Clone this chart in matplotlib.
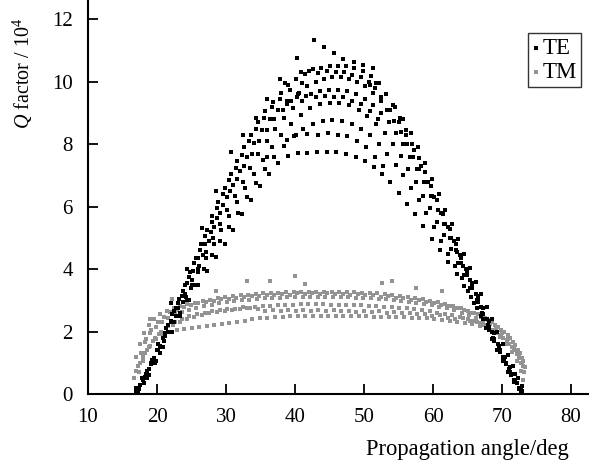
import matplotlib
matplotlib.use("Agg")
import matplotlib.pyplot as plt
import numpy as np

plt.rcParams['font.family'] = ['Liberation Serif', 'DejaVu Serif']
plt.rcParams['mathtext.fontset'] = 'custom'
plt.rcParams['mathtext.rm'] = 'Liberation Serif'
plt.rcParams['mathtext.it'] = 'Liberation Serif:italic'

# TE points (angle in deg, Q in 1e4)
te_outer = [(22.0, 2.9), (24.3, 4.0), (26.5, 5.32), (28.6, 6.5), (30.7, 7.75), (32.5, 8.3),
            (34.3, 8.83), (36.0, 9.45), (37.8, 10.08), (40.3, 10.75), (42.8, 11.34), (44.2, 11.1),
            (45.6, 10.92), (47.0, 10.74), (48.5, 10.63), (49.9, 10.53), (51.3, 10.43)]
te_arc1 = [(16.9, 0.05), (17.6, 0.3), (18.4, 0.65), (19.2, 1.0), (20.0, 1.4), (20.8, 1.8),
           (21.6, 2.2), (22.4, 2.65), (23.2, 3.05), (24.0, 3.5), (24.8, 3.9), (25.6, 4.35),
           (26.4, 4.8), (27.2, 5.25), (28.0, 5.7), (28.9, 6.15), (29.8, 6.6), (30.7, 7.05),
           (31.6, 7.45), (32.6, 7.9), (33.6, 8.3), (34.6, 8.7), (35.7, 9.05), (36.8, 9.35),
           (37.9, 9.65), (39.0, 9.9), (40.2, 10.1), (41.4, 10.25), (42.6, 10.4), (43.8, 10.45),
           (45.0, 10.5), (46.2, 10.52), (47.4, 10.5), (48.6, 10.45), (49.8, 10.35), (51.0, 10.2),
           (52.1, 9.95), (53.2, 9.6), (54.2, 9.25), (55.2, 8.85), (56.1, 8.45), (57.0, 8.0),
           (57.9, 7.55), (58.8, 7.1), (59.7, 6.65), (60.6, 6.2), (61.5, 5.75), (62.4, 5.3),
           (63.3, 4.8), (64.1, 4.35), (64.9, 3.9), (65.7, 3.45), (66.5, 3.0), (67.3, 2.55),
           (68.1, 2.15), (68.9, 1.75), (69.7, 1.35), (70.5, 0.95), (71.3, 0.6), (72.1, 0.35),
           (72.9, 0.1)]
te_arc2 = [(17.2, 0.1), (18.0, 0.45), (18.8, 0.8), (19.6, 1.15), (20.4, 1.55), (21.2, 1.95),
           (22.0, 2.35), (22.8, 2.75), (23.6, 3.15), (24.4, 3.55), (25.2, 3.95), (26.0, 4.35),
           (26.9, 4.8), (27.8, 5.2), (28.7, 5.65), (29.6, 6.05), (30.6, 6.5), (31.6, 6.9),
           (32.6, 7.3), (33.7, 7.7), (34.8, 8.1), (35.9, 8.45), (37.0, 8.8), (38.2, 9.1),
           (39.4, 9.4), (40.6, 9.65), (41.8, 9.85), (43.0, 10.0), (44.2, 10.1), (45.4, 10.15),
           (46.6, 10.15), (47.8, 10.1), (49.0, 10.0), (50.2, 9.85), (51.3, 9.65), (52.4, 9.4),
           (53.4, 9.1), (54.4, 8.75), (55.3, 8.4), (56.2, 8.0), (57.1, 7.6), (58.0, 7.2),
           (58.9, 6.8), (59.8, 6.35), (60.7, 5.9), (61.6, 5.45), (62.5, 5.0), (63.3, 4.6),
           (64.1, 4.2), (64.9, 3.8), (65.7, 3.4), (66.5, 2.95), (67.3, 2.55), (68.1, 2.15),
           (68.9, 1.75), (69.7, 1.4), (70.5, 1.0), (71.3, 0.65), (72.1, 0.35), (72.8, 0.1)]
te_arc3 = [(17.1, 0.05), (18.1, 0.5), (19.1, 0.95), (20.1, 1.4), (21.1, 1.85), (22.1, 2.3),
           (23.1, 2.75), (24.1, 3.2), (25.1, 3.65), (26.1, 4.1), (27.1, 4.55), (28.1, 5.0),
           (29.1, 5.45), (30.2, 5.9), (31.3, 6.35), (32.4, 6.8), (33.5, 7.25), (34.7, 7.7),
           (35.9, 8.1), (37.1, 8.5), (38.4, 8.85), (39.7, 9.15), (41.0, 9.4), (42.3, 9.6),
           (43.6, 9.7), (44.9, 9.75), (46.2, 9.75), (47.5, 9.7), (48.8, 9.6), (50.1, 9.45),
           (51.3, 9.25), (52.5, 9.0), (53.6, 8.7), (54.7, 8.35), (55.7, 8.0), (56.7, 7.6),
           (57.7, 7.2), (58.7, 6.8), (59.7, 6.35), (60.7, 5.9), (61.7, 5.45), (62.6, 5.0),
           (63.5, 4.55), (64.4, 4.1), (65.3, 3.65), (66.2, 3.2), (67.0, 2.8), (67.8, 2.4),
           (68.6, 2.0), (69.4, 1.6), (70.2, 1.2), (71.0, 0.8), (71.8, 0.45), (72.6, 0.15)]
te_arc4 = [(17.2, 0.1), (18.3, 0.55), (19.4, 1.0), (20.5, 1.5), (21.6, 2.0), (22.7, 2.5),
           (23.8, 2.95), (24.9, 3.4), (26.0, 3.9), (27.1, 4.35), (28.2, 4.8), (29.3, 5.25),
           (30.4, 5.7), (31.6, 6.15), (32.8, 6.6), (34.0, 7.05), (35.3, 7.5), (36.6, 7.9),
           (38.0, 8.3), (39.4, 8.65), (40.8, 8.95), (42.2, 9.15), (43.6, 9.28), (45.0, 9.33),
           (46.4, 9.32), (47.8, 9.25), (49.2, 9.1), (50.5, 8.9), (51.8, 8.65), (53.0, 8.35),
           (54.2, 8.0), (55.3, 7.62), (56.4, 7.2), (57.5, 6.8), (58.6, 6.35), (59.6, 5.95),
           (60.6, 5.5), (61.6, 5.1), (62.6, 4.65), (63.6, 4.2), (64.5, 3.8), (65.4, 3.4),
           (66.3, 3.0), (67.1, 2.6), (67.9, 2.2), (68.7, 1.8), (69.5, 1.4), (70.3, 1.05),
           (71.1, 0.7), (71.9, 0.4), (72.7, 0.12)]
te_arc5 = [(17.3, 0.08), (18.4, 0.55), (19.5, 1.0), (20.7, 1.5), (21.9, 2.0), (23.1, 2.5),
           (24.3, 3.0), (25.5, 3.5), (26.8, 4.0), (28.0, 4.45), (29.2, 4.9), (30.4, 5.35),
           (31.7, 5.8), (33.0, 6.3), (34.3, 6.75), (35.6, 7.2), (37.0, 7.6), (38.4, 7.95),
           (39.8, 8.25), (41.2, 8.5), (42.6, 8.65), (44.0, 8.75), (45.4, 8.78), (46.8, 8.75),
           (48.2, 8.65), (49.6, 8.5), (50.9, 8.3), (52.2, 8.0), (53.4, 7.7), (54.6, 7.35),
           (55.7, 7.0), (56.8, 6.6), (57.9, 6.2), (59.0, 5.8), (60.1, 5.35), (61.2, 4.9),
           (62.2, 4.5), (63.2, 4.1), (64.2, 3.7), (65.1, 3.3), (66.0, 2.9), (66.9, 2.5),
           (67.7, 2.1), (68.5, 1.75), (69.3, 1.4), (70.1, 1.05), (70.9, 0.7), (71.7, 0.4),
           (72.5, 0.15)]
te_arc6 = [(17.3, 0.05), (18.5, 0.5), (19.7, 1.0), (20.9, 1.5), (22.1, 2.0), (23.3, 2.5),
           (24.6, 3.0), (26.0, 3.5), (27.3, 3.95), (28.6, 4.4), (29.8, 4.8), (31.0, 5.25),
           (32.3, 5.75), (33.6, 6.2), (34.9, 6.65), (36.2, 7.05), (37.6, 7.4), (39.0, 7.62),
           (40.4, 7.72), (41.8, 7.72), (43.2, 7.75), (44.6, 7.76), (46.0, 7.74), (47.4, 7.68),
           (48.8, 7.6), (50.1, 7.45), (51.4, 7.28), (52.6, 7.05), (53.8, 6.8), (55.0, 6.45),
           (56.2, 6.1), (57.4, 5.75), (58.6, 5.38), (59.8, 4.98), (61.0, 4.6), (62.2, 4.22),
           (63.4, 3.85), (64.5, 3.45), (65.5, 3.1), (66.4, 2.75), (67.3, 2.4), (68.1, 2.05),
           (68.9, 1.7), (69.7, 1.35), (70.5, 1.0), (71.3, 0.65), (72.1, 0.35), (72.9, 0.08)]
te_left = [(17.0, 0.2), (17.4, 0.15), (17.8, 0.5), (18.1, 0.35), (18.6, 0.75), (18.9, 0.6),
           (19.3, 1.1), (19.8, 1.05), (20.2, 1.6), (20.5, 1.3), (21.0, 1.7), (21.3, 2.1),
           (21.8, 2.0), (22.2, 2.55), (22.5, 2.3), (23.0, 2.9), (23.4, 2.6), (23.8, 3.3),
           (24.2, 3.1), (24.6, 3.75), (25.0, 3.5), (25.4, 4.2), (25.9, 4.0), (26.2, 4.6),
           (26.7, 4.45), (27.0, 5.05), (27.5, 4.9), (27.9, 5.5), (28.3, 5.35), (28.7, 5.95),
           (29.2, 5.8), (29.6, 6.4), (30.1, 6.3), (30.5, 6.85), (31.0, 6.7), (31.4, 7.25),
           (32.0, 7.15), (32.3, 7.65), (33.0, 7.6), (33.3, 8.1), (34.1, 8.05), (34.4, 8.5),
           (35.2, 8.45), (35.5, 8.85), (36.4, 8.8), (36.6, 9.2), (37.5, 9.1), (37.8, 9.45),
           (38.8, 9.4), (39.3, 9.75), (40.4, 9.6), (41.0, 9.95)]
te_right = [(72.9, 0.25), (72.5, 0.2), (72.3, 0.5), (71.9, 0.65), (71.6, 0.9), (71.2, 0.85),
            (70.8, 1.25), (70.4, 1.2), (70.1, 1.6), (69.6, 1.55), (69.3, 2.0), (68.9, 1.95),
            (68.6, 2.4), (68.1, 2.35), (67.8, 2.8), (67.3, 2.75), (67.0, 3.2), (66.5, 3.15),
            (66.2, 3.6), (65.7, 3.55), (65.4, 4.05), (64.8, 4.0), (64.5, 4.5), (63.9, 4.45),
            (63.6, 4.95), (63.0, 4.9), (62.7, 5.45), (62.1, 5.35), (61.8, 5.9), (61.1, 5.8),
            (60.8, 6.4), (60.2, 6.3), (59.8, 6.9), (59.2, 6.8), (58.8, 7.4), (58.2, 7.3),
            (57.8, 7.9), (57.2, 7.8), (56.8, 8.35), (56.1, 8.3), (55.7, 8.8), (55.0, 8.7),
            (54.5, 9.2), (53.8, 9.1), (53.2, 9.6), (52.5, 9.5), (51.8, 9.95), (50.9, 9.9)]
te_mid = [(38.5, 9.95), (40.8, 10.3), (42.0, 10.35), (43.3, 10.28), (44.6, 10.33), (45.9, 10.32),
          (47.1, 10.3), (48.3, 10.22), (49.6, 10.15), (50.7, 10.0), (51.6, 9.8),
          (36.5, 8.8), (38.9, 9.3), (40.3, 9.5), (41.6, 9.55), (43.0, 9.5), (44.3, 9.55),
          (45.6, 9.52), (47.0, 9.5), (48.3, 9.4), (49.6, 9.28), (50.8, 9.05), (52.0, 8.8),
          (36.0, 7.6), (38.8, 8.15), (40.2, 8.3), (41.8, 8.32), (43.3, 8.28), (44.8, 8.35),
          (46.2, 8.3), (47.6, 8.25), (49.0, 8.1), (50.3, 7.9), (51.6, 7.6), (52.8, 7.3)]

# TM points
tm_outer = [(19.0, 2.4), (22.1, 3.04), (28.6, 3.3), (33.0, 3.63), (36.4, 3.63), (40.0, 3.79),
            (41.4, 3.52), (52.6, 3.57), (54.0, 3.63), (57.6, 3.41), (61.3, 3.3)]
tm_row1 = [(17.0, 1.2), (17.5, 1.6), (18.1, 1.95), (18.8, 2.2), (19.6, 2.4), (20.5, 2.55),
           (21.4, 2.65), (22.4, 2.75), (23.4, 2.82), (24.4, 2.88), (25.5, 2.93), (26.6, 2.98),
           (27.7, 3.02), (28.8, 3.06), (29.9, 3.1), (31.0, 3.13), (32.1, 3.16), (33.2, 3.18),
           (34.3, 3.2), (35.4, 3.22), (36.5, 3.24), (37.6, 3.25), (38.7, 3.26), (39.8, 3.27),
           (40.9, 3.28), (42.0, 3.28), (43.1, 3.27), (44.2, 3.28), (45.3, 3.27), (46.4, 3.27),
           (47.5, 3.26), (48.6, 3.26), (49.7, 3.25), (50.8, 3.24), (51.9, 3.22), (53.0, 3.2),
           (54.1, 3.18), (55.2, 3.15), (56.3, 3.12), (57.4, 3.08), (58.5, 3.04), (59.6, 2.99),
           (60.7, 2.94), (61.8, 2.88), (62.9, 2.82), (64.0, 2.75), (65.0, 2.67), (66.0, 2.58),
           (67.0, 2.48), (68.0, 2.36), (69.0, 2.22), (69.9, 2.06), (70.8, 1.88), (71.6, 1.66),
           (72.3, 1.42), (72.9, 1.15), (73.3, 0.85)]
tm_row1b = [(18.4, 1.75), (19.2, 2.05), (20.1, 2.3), (21.0, 2.48), (21.9, 2.62), (22.9, 2.68),
            (23.9, 2.8), (24.9, 2.85), (26.0, 2.9), (27.1, 2.95), (28.2, 2.97), (29.3, 3.03),
            (30.4, 3.04), (31.5, 3.09), (32.6, 3.1), (33.7, 3.14), (34.8, 3.13), (35.9, 3.18),
            (37.0, 3.17), (38.1, 3.2), (39.2, 3.18), (40.3, 3.22), (41.4, 3.2), (42.5, 3.22),
            (43.6, 3.19), (44.7, 3.22), (45.8, 3.2), (46.9, 3.21), (48.0, 3.18), (49.1, 3.2),
            (50.2, 3.16), (51.3, 3.17), (52.4, 3.12), (53.5, 3.13), (54.6, 3.08), (55.7, 3.07),
            (56.8, 3.02), (57.9, 3.0), (59.0, 2.94), (60.1, 2.92), (61.2, 2.85), (62.3, 2.82),
            (63.4, 2.74), (64.5, 2.7), (65.5, 2.6), (66.5, 2.55), (67.5, 2.42), (68.5, 2.32),
            (69.4, 2.15), (70.3, 2.0), (71.1, 1.8), (71.9, 1.58), (72.6, 1.3), (73.1, 1.05)]
tm_row2 = [(17.2, 0.9), (17.7, 1.3), (18.3, 1.65), (19.0, 1.95), (19.8, 2.15), (20.7, 2.32),
           (21.6, 2.45), (22.6, 2.55), (23.6, 2.63), (24.6, 2.7), (25.7, 2.76), (26.8, 2.81),
           (27.9, 2.86), (29.0, 2.9), (30.1, 2.94), (31.2, 2.97), (32.3, 3.0), (33.4, 3.02),
           (34.5, 3.04), (35.6, 3.06), (36.7, 3.08), (37.8, 3.09), (38.9, 3.1), (40.0, 3.11),
           (41.1, 3.11), (42.2, 3.12), (43.3, 3.12), (44.4, 3.11), (45.5, 3.11), (46.6, 3.1),
           (47.7, 3.1), (48.8, 3.09), (49.9, 3.08), (51.0, 3.06), (52.1, 3.05), (53.2, 3.03),
           (54.3, 3.0), (55.4, 2.98), (56.5, 2.95), (57.6, 2.92), (58.7, 2.88), (59.8, 2.84),
           (60.9, 2.79), (62.0, 2.74), (63.1, 2.68), (64.2, 2.61), (65.2, 2.53), (66.2, 2.45),
           (67.2, 2.35), (68.2, 2.23), (69.1, 2.1), (70.0, 1.94), (70.9, 1.75), (71.7, 1.52),
           (72.4, 1.27), (72.9, 1.0), (73.2, 0.7)]
tm_row3 = [(17.4, 0.7), (17.9, 1.05), (18.6, 1.4), (19.4, 1.7), (20.3, 1.93), (21.3, 2.1),
           (22.3, 2.22), (23.3, 2.32), (24.3, 2.4), (25.4, 2.47), (26.5, 2.53), (27.6, 2.58),
           (28.7, 2.62), (29.8, 2.66), (30.9, 2.7), (32.0, 2.73), (33.1, 2.76), (34.2, 2.79),
           (35.3, 2.81), (36.4, 2.83), (37.5, 2.84), (38.6, 2.85), (39.7, 2.86), (40.8, 2.87),
           (41.9, 2.87), (43.0, 2.87), (44.1, 2.87), (45.2, 2.86), (46.3, 2.86), (47.4, 2.85),
           (48.5, 2.85), (49.6, 2.84), (50.7, 2.83), (51.8, 2.82), (52.9, 2.8), (54.0, 2.78),
           (55.1, 2.76), (56.2, 2.74), (57.3, 2.71), (58.4, 2.68), (59.5, 2.65), (60.6, 2.61),
           (61.7, 2.57), (62.8, 2.52), (63.9, 2.47), (65.0, 2.41), (66.0, 2.34), (67.0, 2.26),
           (68.0, 2.16), (68.9, 2.04), (69.8, 1.9), (70.7, 1.72), (71.5, 1.52), (72.2, 1.28),
           (72.8, 1.0), (73.2, 0.72)]
tm_row2b = [(18.0, 1.2), (18.8, 1.5), (19.7, 1.8), (20.6, 2.0), (21.6, 2.18), (22.6, 2.3),
            (23.6, 2.4), (24.7, 2.5), (25.8, 2.55), (26.9, 2.6), (28.0, 2.66), (29.1, 2.68),
            (30.2, 2.72), (31.3, 2.73), (32.4, 2.78), (33.5, 2.77), (34.6, 2.72), (35.7, 2.65),
            (36.8, 2.68), (37.9, 2.65), (39.0, 2.68), (40.1, 2.66), (41.2, 2.69), (42.3, 2.67),
            (43.4, 2.7), (44.5, 2.66), (45.6, 2.69), (46.7, 2.65), (47.8, 2.67), (48.9, 2.63),
            (50.0, 2.65), (51.1, 2.62), (52.2, 2.66), (53.3, 2.6), (54.4, 2.63), (55.5, 2.58),
            (56.6, 2.61), (57.7, 2.55), (58.8, 2.57), (59.9, 2.5), (61.0, 2.53), (62.1, 2.45),
            (63.2, 2.4), (64.3, 2.42), (65.4, 2.33), (66.4, 2.3), (67.4, 2.2), (68.4, 2.05),
            (69.3, 1.95), (70.2, 1.78), (71.0, 1.6), (71.8, 1.4), (72.5, 1.15), (73.0, 0.9)]
tm_row4 = [(16.7, 0.5), (17.0, 0.75), (17.5, 1.0), (18.2, 1.3), (19.0, 1.55), (19.9, 1.75),
           (20.9, 1.9), (21.9, 2.0), (22.9, 2.05), (23.9, 2.09), (25.0, 2.12), (26.1, 2.15),
           (27.2, 2.19), (28.3, 2.22), (29.4, 2.25), (30.5, 2.28), (31.6, 2.31), (32.7, 2.35),
           (33.8, 2.39), (34.9, 2.42), (36.0, 2.44), (37.1, 2.46), (38.2, 2.48), (39.3, 2.5),
           (40.4, 2.5), (41.5, 2.51), (42.6, 2.51), (43.7, 2.5), (44.8, 2.51), (45.9, 2.5),
           (47.0, 2.5), (48.1, 2.5), (49.2, 2.49), (50.3, 2.49), (51.4, 2.48), (52.5, 2.48),
           (53.6, 2.47), (54.7, 2.47), (55.8, 2.46), (56.9, 2.45), (58.0, 2.44), (59.1, 2.42),
           (60.2, 2.4), (61.3, 2.37), (62.4, 2.33), (63.5, 2.3), (64.6, 2.27), (65.7, 2.24),
           (66.8, 2.18), (67.8, 2.1), (68.8, 1.98), (69.7, 1.82), (70.6, 1.6), (71.4, 1.35),
           (72.1, 1.05), (72.7, 0.75), (73.1, 0.45)]

te = np.array(te_outer + te_arc1 + te_arc2 + te_arc3 + te_arc4 + te_arc5 + te_arc6
              + te_left + te_right + te_mid)
tm = np.array(tm_outer + tm_row1 + tm_row1b + tm_row2 + tm_row3 + tm_row2b + tm_row4)

fig = plt.figure(figsize=(5.89, 4.61), dpi=100)
ax = fig.add_axes([88 / 589, 67 / 461, 501 / 589, 394 / 461])

ax.scatter(tm[:, 0], tm[:, 1], s=7, marker='s', color='#939393', linewidths=0, label='TM', zorder=2)
ax.scatter(te[:, 0], te[:, 1], s=7, marker='s', color='black', linewidths=0, label='TE', zorder=3)

ax.set_xlim(10, 82.6)
ax.set_ylim(0, 12.62)
ax.set_xticks(np.arange(10, 81, 10))
ax.set_yticks(np.arange(0, 13, 2))
ax.tick_params(direction='in', length=7, width=1.3, labelsize=15)
ax.tick_params(axis='x', pad=10)
ax.tick_params(axis='y', pad=11)
for s in ['top', 'right']:
    ax.spines[s].set_visible(False)
for s in ['left', 'bottom']:
    ax.spines[s].set_linewidth(1.5)

ax.set_xlabel('Propagation angle/deg', fontsize=16.3)
ax.xaxis.set_label_coords(0.96, -0.115, transform=ax.transAxes)
ax.xaxis.label.set_horizontalalignment('right')
ax.set_ylabel('$Q$ factor / 10$^{4}$', fontsize=14.5)
ax.yaxis.set_label_coords(-0.105, 0.815)

h, l = ax.get_legend_handles_labels()
leg = ax.legend(h[::-1], l[::-1], loc='upper right', bbox_to_anchor=(0.985, 0.915), fontsize=16.5,
                frameon=True, fancybox=False, edgecolor='black', handlelength=0.3,
                handletextpad=0.15, borderpad=0.2, labelspacing=0.12, markerscale=1.3,
                borderaxespad=0)
leg.get_frame().set_linewidth(1.0)

fig.savefig('out.png', dpi=100)
